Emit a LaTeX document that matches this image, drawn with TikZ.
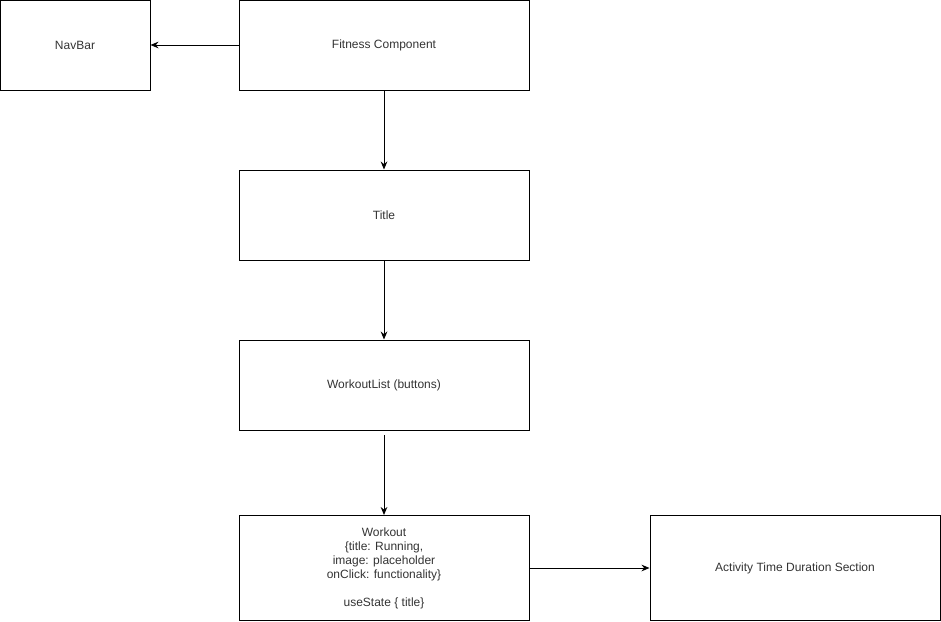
\documentclass[tikz,border=0pt]{standalone}
\usepackage{fontspec}
\setmainfont{Liberation Sans}
\usetikzlibrary{arrows.meta}
\begin{document}
\begin{tikzpicture}[x=0.75pt,y=-0.75pt,
  box/.style={draw=black,line width=0.75pt,minimum width=217.5pt,minimum height=67.5pt,inner sep=0pt,align=center,font=\fontsize{9}{10.5}\selectfont,text=black!80},
  conn/.style={line width=0.75pt,-{Stealth[length=6pt,width=5pt]}}]
\useasboundingbox (0,0) rectangle (941,621);
\node[box,minimum width=112.5pt] (nav) at (75,45) {NavBar};
\node[box] (fit) at (384,45) {Fitness Component};
\node[box] (title) at (384,215) {Title};
\node[box] (wl) at (384,385) {WorkoutList (buttons)};
\node[box,minimum height=78.75pt] (wo) at (384,568) {Workout\\{\{}title: Running,\\image: placeholder\\onClick: functionality{\}}\\\mbox{}\\useState {\{} title{\}}};
\node[box,minimum height=78.75pt] (act) at (795,568) {Activity Time Duration Section};
\coordinate (wlb) at (384,435);
\draw[conn] (fit.west) -- (nav.east);
\draw[conn] (fit.south) -- (title.north);
\draw[conn] (title.south) -- (wl.north);
\draw[conn] (wlb) -- (wo.north);
\draw[conn] (wo.east) -- (act.west);
\end{tikzpicture}
\end{document}
